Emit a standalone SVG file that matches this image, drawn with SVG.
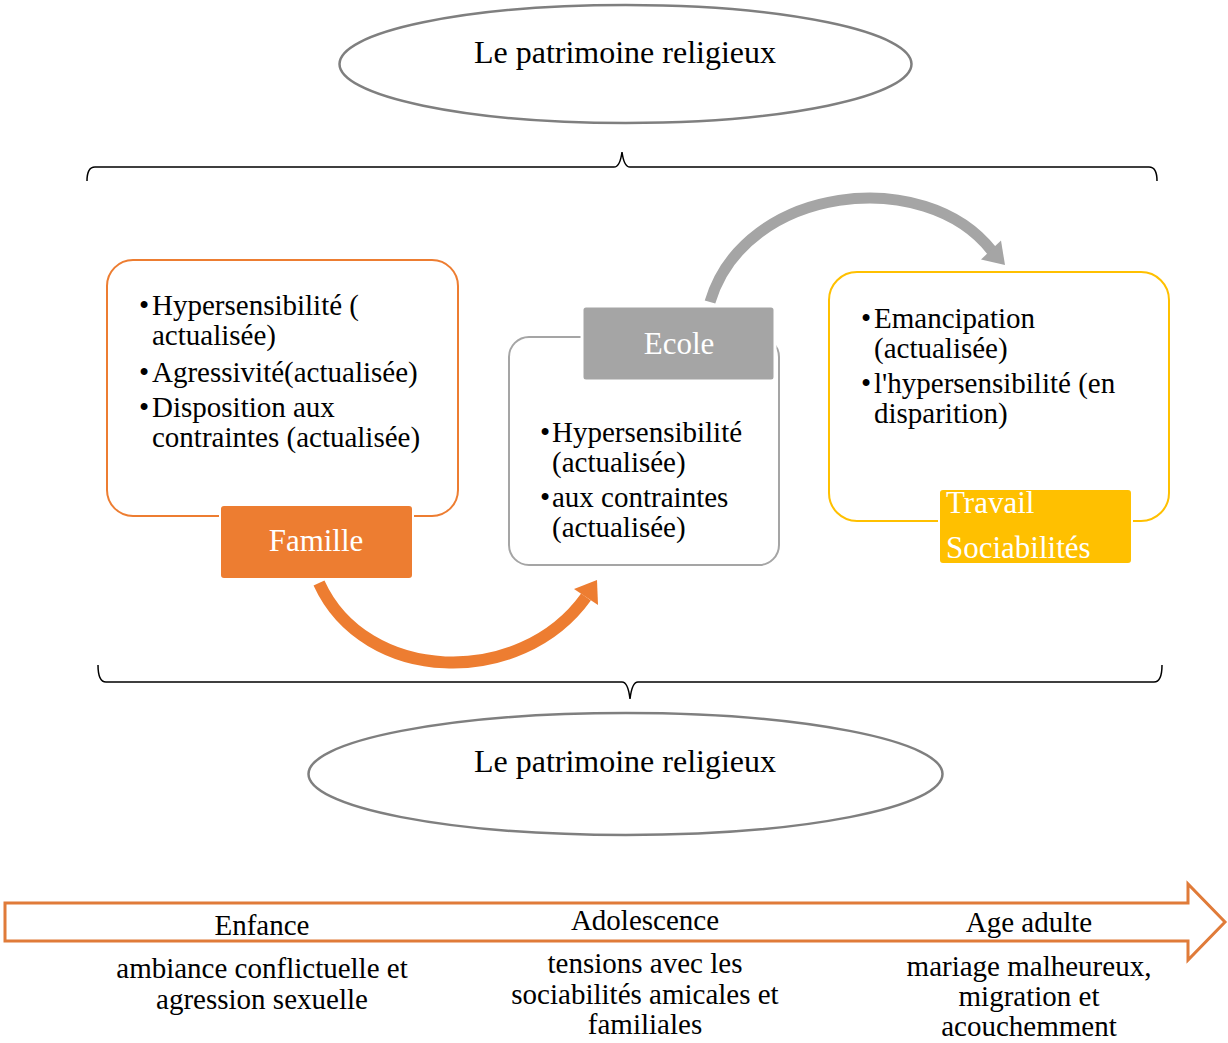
<svg xmlns="http://www.w3.org/2000/svg" width="1228" height="1043" viewBox="0 0 1228 1043">
<style>
text{font-family:"Liberation Serif","Times New Roman",serif;fill:#000}
.h{font-size:32px;text-anchor:middle}
.b{font-size:29px}
.lbl{font-size:31px;fill:#fff}
.tl{font-size:29px;text-anchor:middle}
.ell{fill:#fff;stroke:#7f7f7f;stroke-width:2.5}
.brace{fill:none;stroke:#000;stroke-width:1.5}
</style>
<rect width="1228" height="1043" fill="#fff"/>
<g id="patrimoine-top">
<ellipse class="ell" cx="625.5" cy="64" rx="286" ry="59"/>
<text class="h" x="625" y="63">Le patrimoine religieux</text>
</g>
<g id="brace-top"><path class="brace" d="M87,181 Q87,167 95,167 L614,167 Q620,167 622,152 Q624,167 630,167 L1149,167 Q1157,167 1157,181"/></g>
<g id="famille">
<rect x="107" y="260" width="351" height="256" rx="26" fill="#fff" stroke="#ed7d31" stroke-width="2"/>
<text class="b" x="139" y="315">•</text><text class="b" x="152" y="315">Hypersensibilité (</text>
<text class="b" x="152" y="345">actualisée)</text>
<text class="b" x="139" y="382">•</text><text class="b" x="152" y="382">Agressivité(actualisée)</text>
<text class="b" x="139" y="417">•</text><text class="b" x="152" y="417">Disposition aux</text>
<text class="b" x="152" y="447">contraintes (actualisée)</text>
<rect x="220" y="505" width="193" height="74" rx="4" fill="#ed7d31" stroke="#fff" stroke-width="2"/>
<text class="lbl" x="316" y="551" text-anchor="middle">Famille</text>
</g>
<g id="ecole">
<rect x="509" y="337" width="270" height="228" rx="20" fill="#fff" stroke="#a5a5a5" stroke-width="2"/>
<text class="b" x="540" y="442">•</text><text class="b" x="552" y="442">Hypersensibilité</text>
<text class="b" x="552" y="472">(actualisée)</text>
<text class="b" x="540" y="507">•</text><text class="b" x="552" y="507">aux contraintes</text>
<text class="b" x="552" y="537">(actualisée)</text>
<rect x="582" y="306" width="193" height="75" rx="4" fill="#a5a5a5" stroke="#fff" stroke-width="3"/>
<text class="lbl" x="679" y="354" text-anchor="middle">Ecole</text>
</g>
<g id="travail">
<rect x="829" y="272" width="340" height="249" rx="28" fill="#fff" stroke="#ffc000" stroke-width="2"/>
<text class="b" x="861" y="328">•</text><text class="b" x="874" y="328">Emancipation</text>
<text class="b" x="874" y="358">(actualisée)</text>
<text class="b" x="861" y="393">•</text><text class="b" x="874" y="393">l'hypersensibilité (en</text>
<text class="b" x="874" y="423">disparition)</text>
<rect x="939" y="489" width="193" height="75" rx="4" fill="#ffc000" stroke="#fff" stroke-width="2"/>
<text class="lbl" x="946" y="513">Travail</text>
<text class="lbl" x="946" y="558">Sociabilités</text>
</g>
<g id="connectors">
<path d="M319,583 C365,684 520,689 586,597" fill="none" stroke="#ed7d31" stroke-width="12"/>
<polygon points="597,580 574,589 598,605" fill="#ed7d31"/>
<path d="M710,302 C745,185 925,165 992,251" fill="none" stroke="#a5a5a5" stroke-width="11"/>
<polygon points="1005,265 981,259.5 1001,240.5" fill="#a5a5a5"/>
</g>
<g id="brace-bottom"><path class="brace" d="M98,665 Q98,682 106,682 L622,682 Q628,682 630,699 Q632,682 638,682 L1154,682 Q1162,682 1162,665"/></g>
<g id="patrimoine-bottom">
<ellipse class="ell" cx="625.5" cy="774" rx="317" ry="61"/>
<text class="h" x="625" y="772">Le patrimoine religieux</text>
</g>
<g id="timeline">
<path d="M5,903 L1188,903 L1188,884 L1225,922 L1188,960 L1188,941 L5,941 Z" fill="#fff" stroke="#e07b39" stroke-width="3"/>
<text class="tl" x="262" y="935">Enfance</text>
<text class="tl" x="645" y="930">Adolescence</text>
<text class="tl" x="1029" y="932">Age adulte</text>
<text class="tl" x="262" y="978">ambiance conflictuelle et</text>
<text class="tl" x="262" y="1009">agression sexuelle</text>
<text class="tl" x="645" y="973">tensions avec les</text>
<text class="tl" x="645" y="1004">sociabilités amicales et</text>
<text class="tl" x="645" y="1034">familiales</text>
<text class="tl" x="1029" y="976">mariage malheureux,</text>
<text class="tl" x="1029" y="1006">migration et</text>
<text class="tl" x="1029" y="1036">acouchemment</text>
</g>
</svg>
